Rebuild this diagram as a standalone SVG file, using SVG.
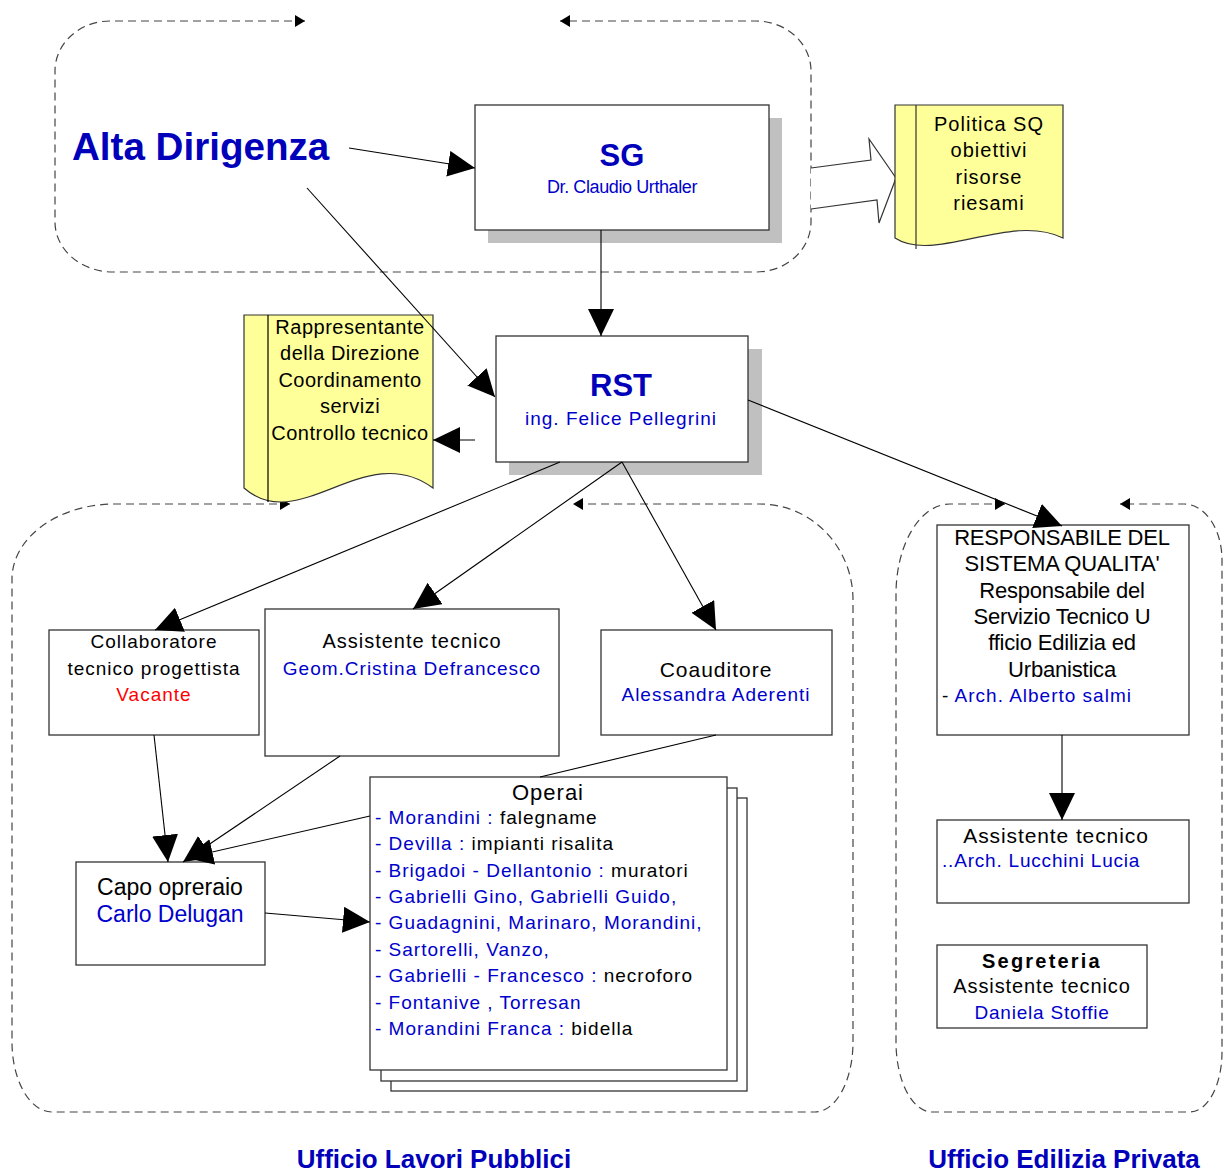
<svg xmlns="http://www.w3.org/2000/svg" width="1224" height="1172" viewBox="0 0 1224 1172">
  <style>
    text { font-family: "Liberation Sans", Arial, sans-serif; fill: #000; }
    .c { text-anchor: middle; }
    .blue { fill: #0000CC; }
    .red { fill: #FF0000; }
    .title { font-weight: bold; fill: #0000BB; }
    .s19 { font-size: 19px; letter-spacing: 1px; }
    .s20 { font-size: 20px; letter-spacing: 0.5px; }
    .box { fill: #fff; stroke: #333; stroke-width: 1.3; }
    .shadow { fill: #C0C0C0; }
    .doc { fill: #FFFF99; stroke: #333; stroke-width: 1.2; }
    .region { fill: none; stroke: #444; stroke-width: 1.2; stroke-dasharray: 8 5; marker-start: url(#dashHead); marker-end: url(#dashHead); }
    .link { fill: none; stroke: #000; stroke-width: 1.1; }
    .arrow { marker-end: url(#bigHead); }
  </style>
  <defs>
    <marker id="bigHead" markerUnits="userSpaceOnUse" markerWidth="30" markerHeight="28" refX="27" refY="13" orient="auto">
      <path d="M0,0 L27,13 L0,26 z" fill="#000"/>
    </marker>
    <marker id="dashHead" markerUnits="userSpaceOnUse" markerWidth="12" markerHeight="12" refX="10" refY="6" orient="auto-start-reverse">
      <path d="M0,0 L10,6 L0,12 z" fill="#000"/>
    </marker>
  </defs>

  <rect width="1224" height="1172" fill="#fff"/>

  <!-- dashed grouping regions, each with a gap at the top closed by two arrowheads -->
  <g id="regions">
    <path class="region" d="M305,21 H110 A55,50 0 0 0 55,71 V222 A58,50 0 0 0 113,272 H756 A55,50 0 0 0 811,222 V71 A55,50 0 0 0 756,21 H560"/>
    <path class="region" d="M290,504 H115 A103,75 0 0 0 12,579 V1042 A40,70 0 0 0 52,1112 H815 A38,70 0 0 0 853,1042 V600 A93,96 0 0 0 760,504 H573"/>
    <path class="region" d="M1005,504 H950 A54,90 0 0 0 896,594 V1042 A36,70 0 0 0 932,1112 H1190 A32,60 0 0 0 1222,1052 V560 A38,56 0 0 0 1184,504 H1120"/>
  </g>

  <!-- block arrow towards the policy document -->
  <path id="policy-arrow" d="M811,168 L871,160 L869,139 L896,178 L879,223 L877,200 L811,209" fill="#fff" stroke="#333" stroke-width="1.2"/>

  <g id="alta-dirigenza">
    <text x="72" y="160" class="title" style="font-size:38.6px">Alta Dirigenza</text>
  </g>

  <g id="sg">
    <rect class="shadow" x="488" y="118" width="294" height="125"/>
    <rect class="box" x="475" y="105" width="294" height="125"/>
    <text x="622" y="166" class="c title" style="font-size:31px">SG</text>
    <text x="622" y="193" class="c blue" style="font-size:18px;letter-spacing:-0.4px">Dr. Claudio Urthaler</text>
  </g>

  <g id="politica">
    <path class="doc" d="M895,105 H1063 V238 C1010,212 935,264 895,238 Z"/>
    <line x1="916" y1="105" x2="916" y2="249" stroke="#333" stroke-width="1.2"/>
    <text class="c s20" x="989" y="131" style="letter-spacing:1px">Politica SQ</text>
    <text class="c s20" x="989" y="157" style="letter-spacing:1px">obiettivi</text>
    <text class="c s20" x="989" y="184" style="letter-spacing:1px">risorse</text>
    <text class="c s20" x="989" y="210" style="letter-spacing:1px">riesami</text>
  </g>

  <g id="rappresentante">
    <path class="doc" d="M244,315 H433 V488 C365,438 300,537 244,488 Z"/>
    <line x1="268" y1="315" x2="268" y2="502" stroke="#000" stroke-width="1.2"/>
    <text class="c s20" x="350" y="334">Rappresentante</text>
    <text class="c s20" x="350" y="360">della Direzione</text>
    <text class="c s20" x="350" y="387">Coordinamento</text>
    <text class="c s20" x="350" y="413">servizi</text>
    <text class="c s20" x="350" y="440">Controllo tecnico</text>
  </g>

  <g id="rst">
    <rect class="shadow" x="509" y="349" width="253" height="126"/>
    <rect class="box" x="496" y="336" width="252" height="126"/>
    <text x="621" y="396" class="c title" style="font-size:31px">RST</text>
    <text x="621" y="425" class="c blue s19">ing. Felice Pellegrini</text>
  </g>

  <g id="collaboratore">
    <rect class="box" x="49" y="630" width="210" height="105"/>
    <text class="c s19" x="154" y="648">Collaboratore</text>
    <text class="c s19" x="154" y="675">tecnico progettista</text>
    <text class="c s19 red" x="154" y="701">Vacante</text>
  </g>

  <g id="assistente-lp">
    <rect class="box" x="265" y="609" width="294" height="147"/>
    <text class="c s19" x="412" y="648" style="font-size:20px">Assistente tecnico</text>
    <text class="c s19 blue" x="412" y="675">Geom.Cristina Defrancesco</text>
  </g>

  <g id="coauditore">
    <rect class="box" x="601" y="630" width="231" height="105"/>
    <text class="c s19" x="716" y="677" style="font-size:21px">Coauditore</text>
    <text class="c s19 blue" x="716" y="701">Alessandra Aderenti</text>
  </g>

  <g id="capo-opreraio">
    <rect class="box" x="76" y="862" width="189" height="103"/>
    <text class="c" x="170" y="895" style="font-size:23px">Capo opreraio</text>
    <text class="c blue" x="170" y="922" style="font-size:23px">Carlo Delugan</text>
  </g>

  <g id="operai">
    <rect class="box" x="391" y="798" width="356" height="293"/>
    <rect class="box" x="381" y="788" width="356" height="293"/>
    <rect class="box" x="370" y="777" width="357" height="293"/>
    <text class="c s19" x="548" y="800" style="font-size:22px">Operai</text>
    <text class="s19" x="375" y="824"><tspan class="blue">- Morandini :</tspan> falegname</text>
    <text class="s19" x="375" y="850"><tspan class="blue">- Devilla :</tspan> impianti risalita</text>
    <text class="s19" x="375" y="877"><tspan class="blue">- Brigadoi - Dellantonio :</tspan> muratori</text>
    <text class="s19 blue" x="375" y="903">- Gabrielli Gino, Gabrielli Guido,</text>
    <text class="s19 blue" x="375" y="929">- Guadagnini, Marinaro, Morandini,</text>
    <text class="s19 blue" x="375" y="956">- Sartorelli, Vanzo,</text>
    <text class="s19" x="375" y="982"><tspan class="blue">- Gabrielli - Francesco :</tspan> necroforo</text>
    <text class="s19 blue" x="375" y="1009">- Fontanive , Torresan</text>
    <text class="s19" x="375" y="1035"><tspan class="blue">- Morandini Franca :</tspan> bidella</text>
  </g>

  <g id="responsabile-sq">
    <rect class="box" x="937" y="525" width="252" height="210"/>
    <text class="c" x="1062" y="545" style="font-size:22px;letter-spacing:-0.2px">RESPONSABILE DEL</text>
    <text class="c" x="1062" y="571" style="font-size:22px;letter-spacing:-0.2px">SISTEMA QUALITA'</text>
    <text class="c" x="1062" y="598" style="font-size:22px;letter-spacing:-0.2px">Responsabile del</text>
    <text class="c" x="1062" y="624" style="font-size:22px;letter-spacing:-0.2px">Servizio Tecnico U</text>
    <text class="c" x="1062" y="650" style="font-size:22px;letter-spacing:-0.2px">fficio Edilizia ed</text>
    <text class="c" x="1062" y="677" style="font-size:22px;letter-spacing:-0.2px">Urbanistica</text>
    <text class="s19" x="942" y="702">- <tspan class="blue">Arch. Alberto salmi</tspan></text>
  </g>

  <g id="assistente-ep">
    <rect class="box" x="937" y="820" width="252" height="83"/>
    <text class="c" x="1056" y="843" style="font-size:21px;letter-spacing:0.9px">Assistente tecnico</text>
    <text class="blue" x="942" y="867" style="font-size:19px;letter-spacing:0.8px">..Arch. Lucchini Lucia</text>
  </g>

  <g id="segreteria">
    <rect class="box" x="937" y="945" width="210" height="83"/>
    <text class="c" x="1042" y="968" style="font-size:20px;font-weight:bold;letter-spacing:2.2px">Segreteria</text>
    <text class="c" x="1042" y="993" style="font-size:20px;letter-spacing:0.9px">Assistente tecnico</text>
    <text class="c blue" x="1042" y="1019" style="font-size:19px;letter-spacing:0.8px">Daniela Stoffie</text>
  </g>

  <!-- connectors -->
  <g id="connectors">
    <line class="link arrow" x1="349" y1="148" x2="475" y2="168"/>
    <line class="link arrow" x1="307" y1="188" x2="495" y2="397"/>
    <line class="link arrow" x1="601" y1="230" x2="601" y2="336"/>
    <line class="link arrow" x1="475" y1="440" x2="433" y2="440"/>
    <line class="link arrow" x1="748" y1="400" x2="1062" y2="526"/>
    <line class="link arrow" x1="560" y1="462" x2="155" y2="630"/>
    <line class="link arrow" x1="622" y1="462" x2="413" y2="609"/>
    <line class="link arrow" x1="622" y1="462" x2="716" y2="630"/>
    <line class="link arrow" x1="154" y1="735" x2="168" y2="862"/>
    <line class="link arrow" x1="340" y1="756" x2="183" y2="862"/>
    <line class="link arrow" x1="370" y1="816" x2="186" y2="858"/>
    <line class="link" x1="716" y1="735" x2="540" y2="777"/>
    <line class="link arrow" x1="265" y1="913" x2="370" y2="922"/>
    <line class="link arrow" x1="1062" y1="735" x2="1062" y2="820"/>
  </g>

  <g id="office-titles">
    <text class="c title" x="434" y="1168" style="font-size:26px">Ufficio Lavori Pubblici</text>
    <text class="c title" x="1064" y="1168" style="font-size:26px">Ufficio Edilizia Privata</text>
  </g>
</svg>
